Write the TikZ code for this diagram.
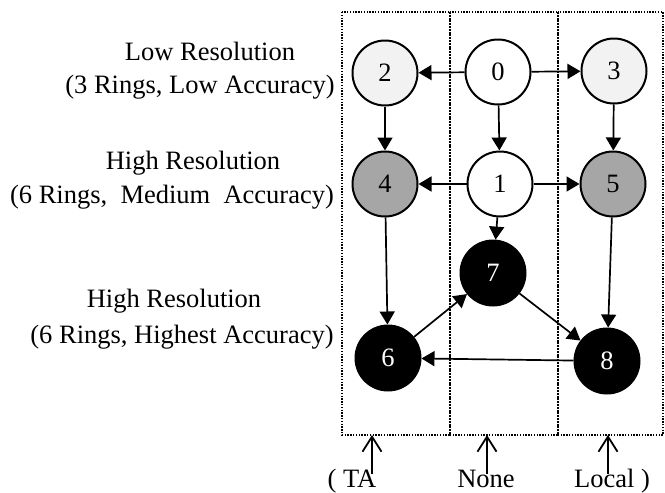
\documentclass[tikz,border=0pt]{standalone}
\usepackage{fontspec}
\setmainfont{Liberation Serif}
\usetikzlibrary{arrows.meta}
\definecolor{lowfill}{HTML}{F2F2F2}
\definecolor{midfill}{HTML}{A6A6A6}
\begin{document}
\begin{tikzpicture}[x=1pt,y=-1pt,
  font=\fontsize{26.5}{32}\selectfont,
  state/.style={circle,draw=black,line width=2pt,minimum size=65pt,inner sep=0pt},
  lowres/.style={state,fill=lowfill},
  midres/.style={state,fill=midfill},
  hires/.style={state,fill=black,text=white},
  top/.style={state,fill=white},
  edge/.style={line width=1.7pt,-{Triangle[length=13pt,width=15pt]}},
  colbox/.style={draw,line width=1.4pt,dash pattern=on 1.4pt off 1.4pt,inner sep=0pt},
  pointer/.style={line width=1.8pt,-{Straight Barb[length=15pt,width=19pt,line width=1.8pt]}},
  lbl/.style={inner sep=0pt,anchor=base}]
\useasboundingbox (0,0) rectangle (665,493);

% dotted columns for the three strategies
\draw[colbox] (342,12) rectangle (450,435);
\draw[colbox] (450,12) rectangle (558,435);
\draw[colbox] (558,12) rectangle (663,435);

% row descriptions
\node[lbl] (t1a) at (210,60) {Low Resolution};
\node[lbl] (t1b) at (200,93) {(3 Rings, Low Accuracy)};
\node[lbl] (t2a) at (193,169) {High Resolution};
\node[lbl] (t2b) at (172,203) {(6 Rings,\ \ Medium\ \ Accuracy)};
\node[lbl] (t3a) at (174,307) {High Resolution};
\node[lbl] (t3b) at (182,343) {(6 Rings, Highest Accuracy)};

% states
\node[top]    (n0) at (498,72) {0};
\node[lowres] (n2) at (385,73) {2};
\node[lowres] (n3) at (614,71) {3};
\node[top]    (n1) at (500,184) {1};
\node[midres] (n4) at (385,184) {4};
\node[midres] (n5) at (613,184) {5};
\node[hires]  (n7) at (493,273) {7};
\node[hires]  (n6) at (388,358) {6};
\node[hires]  (n8) at (607,361) {8};

% transitions
\draw[edge] (n0) -- (n2);
\draw[edge] (n0) -- (n3);
\draw[edge] (n0) -- (n1);
\draw[edge] (n2) -- (n4);
\draw[edge] (n3) -- (n5);
\draw[edge] (n1) -- (n4);
\draw[edge] (n1) -- (n5);
\draw[edge] (n1) -- (n7);
\draw[edge] (n4) -- (n6);
\draw[edge] (n5) -- (n8);
\draw[edge] (n6) -- (n7);
\draw[edge] (n7) -- (n8);
\draw[edge] (n8) -- (n6);

% strategy labels under the columns
\node[lbl] (bTA) at (352,487) {( TA};
\node[lbl] (bNone) at (486,487) {None};
\node[lbl] (bLocal) at (612,487) {Local )};
\coordinate (sTA) at (372,474);
\coordinate (eTA) at (372,435);
\coordinate (sNone) at (487,474);
\coordinate (eNone) at (487,435);
\coordinate (sLocal) at (608,474);
\coordinate (eLocal) at (608,435);
\draw[pointer] (sTA) -- (eTA);
\draw[pointer] (sNone) -- (eNone);
\draw[pointer] (sLocal) -- (eLocal);
\end{tikzpicture}
\end{document}
